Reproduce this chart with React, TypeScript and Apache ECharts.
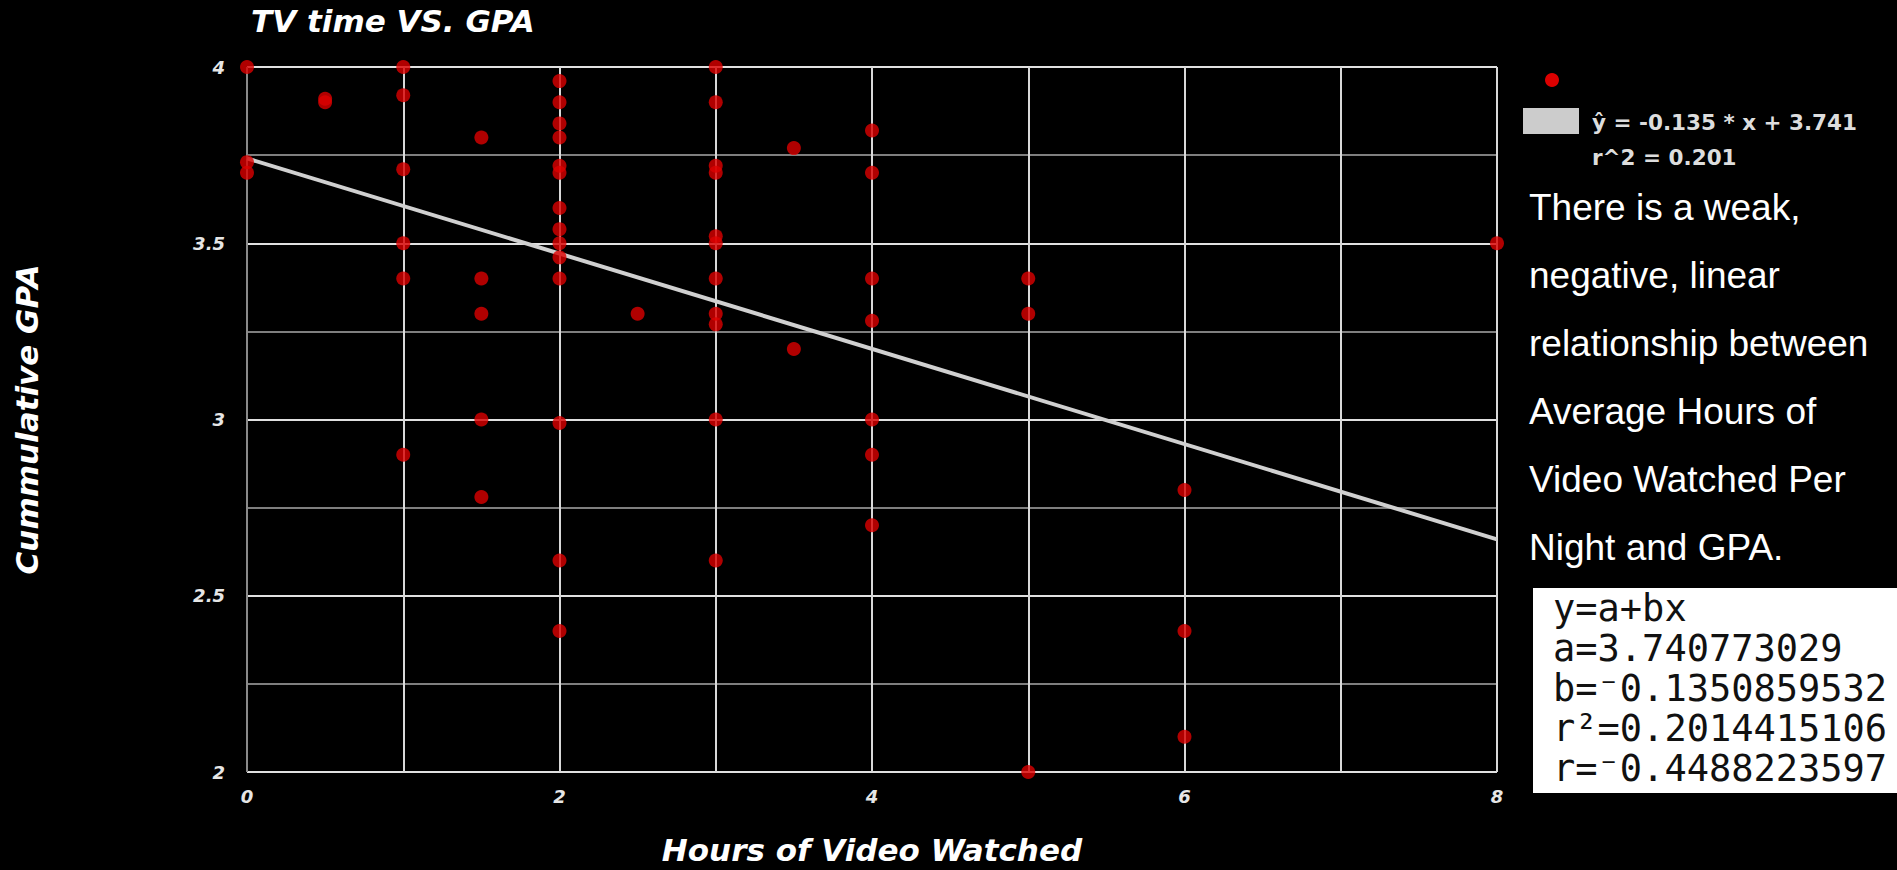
import React, { useEffect, useRef } from "react";
import * as echarts from "echarts";

// Hours of video watched per night (x) and cumulative GPA (y)
const hours = [
  0, 0, 0,
  0.5, 0.5,
  1, 1, 1, 1, 1, 1,
  1.5, 1.5, 1.5, 1.5, 1.5,
  2, 2, 2, 2, 2, 2, 2, 2, 2, 2, 2, 2, 2, 2,
  2.5,
  3, 3, 3, 3, 3, 3, 3, 3, 3, 3, 3,
  3.5, 3.5,
  4, 4, 4, 4, 4, 4, 4,
  5, 5, 5,
  6, 6, 6,
  8,
];
const gpa = [
  4.0, 3.73, 3.7,
  3.91, 3.9,
  4.0, 3.92, 3.71, 3.5, 3.4, 2.9,
  3.8, 3.4, 3.3, 3.0, 2.78,
  3.96, 3.9, 3.84, 3.8, 3.72, 3.7, 3.6, 3.54, 3.5, 3.46, 3.4, 2.99, 2.6, 2.4,
  3.3,
  4.0, 3.9, 3.72, 3.7, 3.52, 3.5, 3.4, 3.3, 3.27, 3.0, 2.6,
  3.77, 3.2,
  3.82, 3.7, 3.4, 3.28, 3.0, 2.9, 2.7,
  3.4, 3.3, 2.0,
  2.8, 2.4, 2.1,
  3.5,
];

// Least-squares line reported by the calculator
const intercept = 3.740773029;
const slope = -0.1350859532;
const trendX = [0, 8];

const xTicks = [0, 2, 4, 6, 8];
const yTicks = [2, 2.5, 3, 3.5, 4];

const title = "TV time VS. GPA";
const xName = "Hours of Video Watched";
const yName = "Cummulative GPA";
const legendLines = ["\u0177 = -0.135 * x + 3.741", "r^2 = 0.201"];
const noteLines = [
  "There is a weak,",
  "negative, linear",
  "relationship between",
  "Average Hours of",
  "Video Watched Per",
  "Night and GPA.",
];
const calcLines = [
  "y=a+bx",
  "a=3.740773029",
  "b=\u207B0.1350859532",
  "r\u00B2=0.2014415106",
  "r=\u207B0.4488223597",
];

const DV = '"DejaVu Sans", sans-serif';
const AR = '"Liberation Sans", Arial, sans-serif';
const RED = "#dc0000";

export default function App() {
  const ref = useRef<HTMLDivElement>(null);

  useEffect(() => {
    if (!ref.current) return;
    const chart = echarts.init(ref.current, null, { renderer: "svg" });

    const points = hours.map((h, i) => [h, gpa[i]]);
    const trend = trendX.map((x) => [x, intercept + slope * x]);

    const graphics: any[] = [];
    // legend
    graphics.push({
      type: "circle",
      shape: { cx: 1552, cy: 80, r: 7 },
      style: { fill: RED },
    });
    graphics.push({
      type: "rect",
      shape: { x: 1523, y: 108, width: 56, height: 26 },
      style: { fill: "#cccccc" },
    });
    legendLines.forEach((t, i) => {
      graphics.push({
        type: "text",
        x: 1592,
        y: 122 + i * 35,
        style: {
          text: t,
          fill: "#dddddd",
          font: `bold 21.5px ${DV}`,
          verticalAlign: "middle",
        },
      });
    });
    // note
    noteLines.forEach((t, i) => {
      graphics.push({
        type: "text",
        x: 1529,
        y: 207 + i * 68,
        style: {
          text: t,
          fill: "#ffffff",
          font: `37px ${AR}`,
          verticalAlign: "middle",
        },
      });
    });
    // calculator box
    graphics.push({
      type: "rect",
      shape: { x: 1533, y: 588, width: 364, height: 205 },
      style: { fill: "#ffffff" },
    });
    calcLines.forEach((t, i) => {
      graphics.push({
        type: "text",
        x: 1553,
        y: 608 + i * 40,
        style: {
          text: t,
          fill: "#111111",
          font: `37px "DejaVu Sans Mono", monospace`,
          verticalAlign: "middle",
        },
      });
    });

    chart.setOption({
      animation: false,
      backgroundColor: "#000000",
      title: {
        text: title,
        left: 251,
        top: 5,
        padding: 0,
        textStyle: {
          color: "#ffffff",
          fontFamily: DV,
          fontStyle: "italic",
          fontWeight: "bold",
          fontSize: 31,
        },
      },
      grid: { left: 247, right: 400, top: 67, bottom: 95.5 },
      xAxis: {
        type: "value",
        min: 0,
        max: 8,
        interval: 2,
        name: xName,
        nameLocation: "middle",
        nameGap: 62,
        nameTextStyle: {
          color: "#ffffff",
          fontFamily: DV,
          fontStyle: "italic",
          fontWeight: "bold",
          fontSize: 31,
        },
        axisLine: { show: false },
        axisTick: { show: false },
        axisLabel: {
          color: "#e6e6e6",
          fontFamily: DV,
          fontStyle: "italic",
          fontWeight: "bold",
          fontSize: 18,
          margin: 15,
          customValues: xTicks,
        },
        splitLine: {
          show: true,
          lineStyle: {
            color: ["#8a8a8a", "#d8d8d8", "#d8d8d8", "#d8d8d8", "#d8d8d8"],
            width: 2,
          },
        },
        minorTick: { show: false, splitNumber: 2 },
        minorSplitLine: {
          show: true,
          lineStyle: { color: "#d8d8d8", width: 2 },
        },
      },
      yAxis: {
        type: "value",
        min: 2,
        max: 4,
        interval: 0.5,
        name: yName,
        nameLocation: "middle",
        nameRotate: 90,
        nameGap: 205,
        nameTextStyle: {
          color: "#ffffff",
          fontFamily: DV,
          fontStyle: "italic",
          fontWeight: "bold",
          fontSize: 31,
        },
        axisLine: { show: false },
        axisTick: { show: false },
        axisLabel: {
          color: "#e6e6e6",
          fontFamily: DV,
          fontStyle: "italic",
          fontWeight: "bold",
          fontSize: 18,
          margin: 22,
          customValues: yTicks,
          formatter: (v: number) => String(v),
        },
        splitLine: {
          show: true,
          lineStyle: { color: "#e0e0e0", width: 2 },
        },
        minorTick: { show: false, splitNumber: 2 },
        minorSplitLine: {
          show: true,
          lineStyle: { color: "#7e7e7e", width: 2 },
        },
      },
      series: [
        {
          type: "line",
          data: trend,
          showSymbol: false,
          symbol: "none",
          lineStyle: { color: "#d0d0d0", width: 4 },
          z: 2,
          silent: true,
        },
        {
          type: "scatter",
          data: points,
          symbol: "circle",
          symbolSize: 14,
          itemStyle: { color: RED },
          z: 3,
        },
      ],
      graphic: graphics,
    });

    return () => chart.dispose();
  }, []);

  return (
    <div
      ref={ref}
      style={{
        position: "fixed",
        left: 0,
        top: 0,
        width: 1897,
        height: 870,
        background: "#000",
      }}
    />
  );
}
